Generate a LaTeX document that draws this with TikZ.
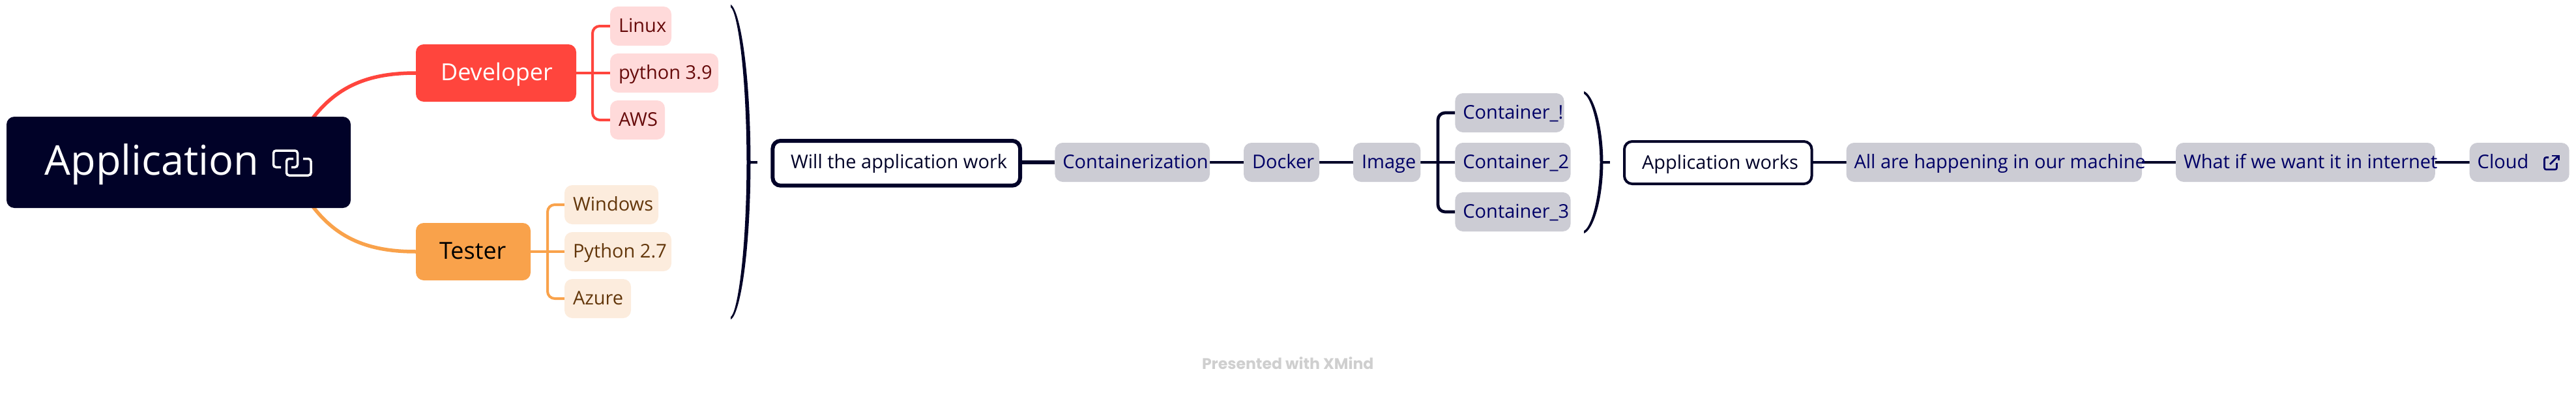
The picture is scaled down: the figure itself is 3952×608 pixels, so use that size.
\documentclass[tikz,border=0pt]{standalone}
\usepackage{fontspec}
\setmainfont{Open Sans}
\newfontfamily\brandfont{Poppins}
\definecolor{ink}{HTML}{010228}
\definecolor{redm}{HTML}{FF453D}
\definecolor{orgm}{HTML}{F9A24B}
\definecolor{redl}{HTML}{FFDADA}
\definecolor{orgl}{HTML}{FCECDD}
\definecolor{redt}{HTML}{660A0A}
\definecolor{orgt}{HTML}{63370B}
\definecolor{gryl}{HTML}{CCCCD4}
\definecolor{blut}{HTML}{000066}
\definecolor{brandc}{HTML}{CFCFCF}
\pgfdeclarelayer{bg}
\pgfsetlayers{bg,main}
\tikzset{
 x=1pt,y=-1pt,
 base/.style={inner sep=0pt,outer sep=0pt,rounded corners=12,text height=25,text depth=6,
   font=\fontsize{29}{29}\selectfont},
 rootbox/.style={base,fill=ink,text=white,text height=50,text depth=12,font=\fontsize{63}{63}\selectfont},
 majorbox/.style={base,text height=32,text depth=9.4,font=\fontsize{36}{36}\selectfont},
 redleaf/.style={base,fill=redl,text=redt},
 orgleaf/.style={base,fill=orgl,text=orgt},
 grayleaf/.style={base,fill=gryl,text=blut},
 outline/.style={base,draw=ink,fill=white,text=ink},
 link/.style={draw=ink,line width=4.7,rounded corners=11},
 redlink/.style={draw=redm,line width=4,rounded corners=11},
 orglink/.style={draw=orgm,line width=4,rounded corners=11},
 curvered/.style={draw=redm,line width=5.5},
 curveorg/.style={draw=orgm,line width=5.5},
 tick/.style={draw=ink,line width=4.5},
 bracket/.style={fill=ink,draw=none},
 iconw/.style={draw=white,line width=3.5,rounded corners=4},
 iconb/.style={draw=blut,line width=2.6,rounded corners=2.5},
}
% name, style, x1, y1, x2, y2, left pad, text
\newcommand{\boxn}[8]{%
 \pgfmathsetmacro{\bw}{#5-(#3)}\pgfmathsetmacro{\bh}{#6-(#4)}%
 \node[#2,minimum width=\bw,minimum height=\bh] (#1) at ({(#3+#5)/2},{(#4+#6)/2})
   {\makebox[\bw pt][l]{\hspace{#7pt}\mbox{#8}}};%
}
\begin{document}
\begin{tikzpicture}
\useasboundingbox (0,0) rectangle (3952,608);
\boxn{root}{rootbox}{10}{179}{538}{319}{58.6}{Application}
\boxn{dev}{majorbox,fill=redm,text=white}{638}{68}{884}{156}{38}{Developer}
\boxn{tes}{majorbox,fill=orgm,text=black}{638}{342}{814}{430}{36}{Tester}
\boxn{lin}{redleaf}{936}{10}{1030}{70}{13}{Linux}
\boxn{pyn}{redleaf}{936}{82}{1102}{142}{13}{python 3.9}
\boxn{aws}{redleaf}{936}{154}{1020}{214}{13}{AWS}
\boxn{win}{orgleaf}{866}{284}{1010}{344}{13}{Windows}
\boxn{pyo}{orgleaf}{866}{356}{1030}{416}{13}{Python 2.7}
\boxn{azu}{orgleaf}{866}{428}{968}{488}{13}{Azure}
\boxn{will}{outline,line width=6,text depth=9}{1185.4}{216}{1565}{284.7}{27.6}{Will the application work}
\boxn{cont}{grayleaf}{1618.4}{219}{1856}{279}{12}{Containerization}
\boxn{dock}{grayleaf}{1908}{219}{2024}{279}{13}{Docker}
\boxn{img}{grayleaf}{2076}{219}{2179.4}{279}{13}{Image}
\boxn{ca}{grayleaf}{2232.4}{143}{2399.5}{203}{12}{Container\_!}
\boxn{cb}{grayleaf}{2232.4}{219}{2409.6}{279}{12}{Container\_2}
\boxn{cc}{grayleaf}{2232.4}{295}{2409.6}{355}{12}{Container\_3}
\boxn{aw}{outline,line width=4}{2492}{217}{2779.5}{282}{27}{Application works}
\boxn{hap}{grayleaf}{2832.5}{219}{3286}{279}{12}{All are happening in our machine}
\boxn{what}{grayleaf}{3338}{219}{3735.8}{279}{12}{What if we want it in internet}
\boxn{cld}{grayleaf}{3788.7}{219}{3941.7}{279}{12}{Cloud}
\node[inner sep=0pt,outer sep=0pt,anchor=base west,text=brandc,font=\brandfont\bfseries\fontsize{23.6}{24}\selectfont] (brand) at (1844,566) {Presented with XMind};
% free ends
\coordinate (rd) at (470,195);
\coordinate (rt) at (470,303);
\coordinate (sr) at (909,112);
\coordinate (so) at (840,386);
\coordinate (si) at (2206,249);
\coordinate (ba) at (1148,249);
\coordinate (baE) at (1162,249);
\coordinate (bb) at (2457,249);
\coordinate (bbE) at (2470,249);
\begin{pgfonlayer}{bg}
\draw[curvered] (rd) .. controls (510,135) and (560,112) .. (dev.west);
\draw[curveorg] (rt) .. controls (510,363) and (560,386) .. (tes.west);
\draw[redlink] (dev.east) -- (pyn.west);
\draw[redlink] (lin.west) -- (sr|-lin.west) -- (sr|-aws.west) -- (aws.west);
\draw[orglink] (tes.east) -- (pyo.west);
\draw[orglink] (win.west) -- (so|-win.west) -- (so|-azu.west) -- (azu.west);
\draw[link,line width=5.5] (will.east|-cont.west) -- (cont.west);
\draw[link] (cont.east) -- (dock.west);
\draw[link] (dock.east) -- (img.west);
\draw[link] (img.east) -- (cb.west);
\draw[link] (ca.west) -- (si|-ca.west) -- (si|-cc.west) -- (cc.west);
\draw[link] (aw.east|-hap.west) -- (hap.west);
\draw[link] (hap.east) -- (what.west);
\draw[link] (what.east) -- (cld.west);
\end{pgfonlayer}
\draw[tick] (ba) -- (baE);
\draw[tick] (bb) -- (bbE);
% summary brackets
\fill[bracket] (1121,7) .. controls (1134,14) and (1151,100) .. (1151.5,249)
  .. controls (1151,398) and (1134,484) .. (1121,490)
  -- (1121,486) .. controls (1130,482) and (1145,398) .. (1145.5,249)
  .. controls (1145,100) and (1130,16) .. (1121,11) -- cycle;
\fill[bracket] (2430,140) .. controls (2444,145) and (2459,190) .. (2459.5,249)
  .. controls (2459,308) and (2444,353) .. (2430,358)
  -- (2430,354) .. controls (2440,350) and (2454,308) .. (2454.5,249)
  .. controls (2454,190) and (2440,148) .. (2430,144) -- cycle;
% link icon
\draw[iconw] (431,256.5) -- (419.5,256.5) -- (419.5,231) -- (456.5,231) -- (456.5,256.5) -- (447,256.5);
\draw[iconw] (465,243.5) -- (477,243.5) -- (477,269) -- (439.5,269) -- (439.5,243.5) -- (450,243.5);
% external link icon
\draw[iconb] (3910,241.5) -- (3903.5,241.5) -- (3903.5,260) -- (3922.5,260) -- (3922.5,250);
\draw[draw=blut,line width=2.6] (3912,252) -- (3925,239);
\draw[draw=blut,line width=2.6] (3915,239) -- (3925.5,239) -- (3925.5,246);
\end{tikzpicture}
\end{document}
